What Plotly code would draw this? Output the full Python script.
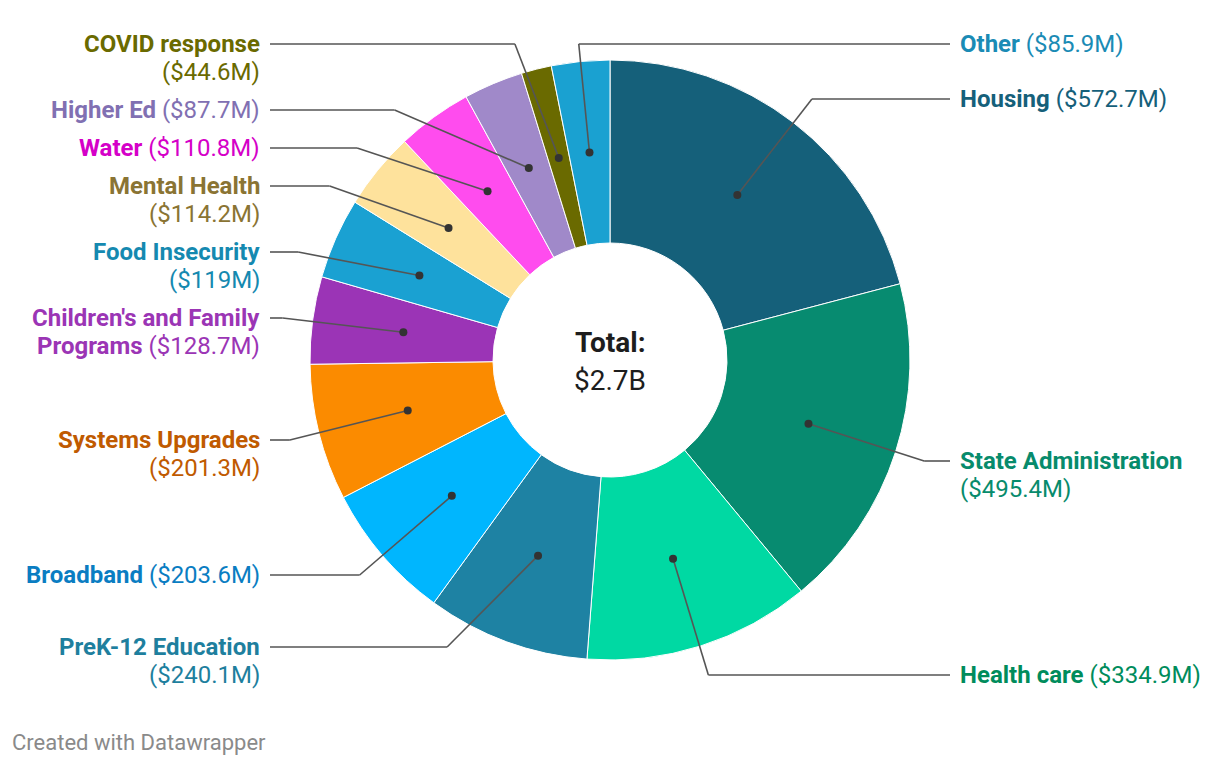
import math
import plotly.graph_objects as go

# ---------------- data ----------------
categories = ["Housing", "State Administration", "Health care", "PreK-12 Education",
              "Broadband", "Systems Upgrades", "Children's and Family Programs",
              "Food Insecurity", "Mental Health", "Water", "Higher Ed",
              "COVID response", "Other"]
values = [572.7, 495.4, 334.9, 240.1, 203.6, 201.3, 128.7, 119.0, 114.2, 110.8, 87.7, 44.6, 85.9]

slice_colors = ["#15607a", "#078b70", "#00d9a3", "#1e82a3", "#00b6fe", "#fb8b00",
                "#9b34b6", "#1aa1d2", "#fee29c", "#ff4cee", "#a089c9", "#6a6a00", "#1aa1d1"]
label_colors = ["#15607a", "#078b6c", "#008c5c", "#1e7f9e", "#0a7dc2", "#c05a00",
                "#9b35b5", "#1589b0", "#8a7433", "#d500c8", "#8170b2", "#6a6a00", "#1a8bb5"]

# ---------------- layout constants ----------------
W, H = 1220, 766
CX, CY = 610, 360
R_OUT = 300
HOLE = 0.39
R_DOT = R_OUT * (1 + HOLE) / 2
R_ELBOW = 330
LINE_END_L, LINE_END_R = 270, 950
TEXT_L, TEXT_R = 262, 958
FONT = "Roboto"
FS = 24
LINE_H = 28
WRAP = 21

label_side = ["right", "right", "right", "left", "left", "left", "left",
              "left", "left", "left", "left", "left", "right"]
label_y = [99, 461, 675, 647, 575, 440, 318, 252, 186, 148, 110, 44, 44]


def px(x):
    return x / W


def py(y):
    return 1 - y / H


def wrap_label(name, val):
    tokens = [(w, True) for w in name.split(" ")] + [("(" + val + ")", False)]
    lines, cur, cur_len = [], [], 0
    for t in tokens:
        add = len(t[0]) + (1 if cur else 0)
        if cur and cur_len + add > WRAP:
            lines.append(cur)
            cur, cur_len = [t], len(t[0])
        else:
            cur.append(t)
            cur_len += add
    if cur:
        lines.append(cur)
    out = []
    for ln in lines:
        bold = " ".join(w for w, b in ln if b)
        reg = " ".join(w for w, b in ln if not b)
        s = ""
        if bold:
            s += "<b>" + bold + "</b>"
        if reg:
            s += (" " if bold else "") + reg
        out.append(s)
    return out


total = sum(values)

fig = go.Figure()
fig.add_trace(go.Pie(
    labels=categories, values=values, sort=False, direction="clockwise", rotation=0,
    hole=HOLE, textinfo="none", hoverinfo="skip", showlegend=False,
    marker=dict(colors=slice_colors, line=dict(color="white", width=1)),
    domain=dict(x=[px(CX - R_OUT), px(CX + R_OUT)], y=[py(CY + R_OUT), py(CY - R_OUT)]),
))

shapes, annotations = [], []
cum = 0.0
for i, (cat, v) in enumerate(zip(categories, values)):
    theta = 2 * math.pi * (cum + v / 2) / total
    cum += v
    s, c = math.sin(theta), math.cos(theta)
    dx, dy = CX + R_DOT * s, CY - R_DOT * c
    ly = label_y[i]
    side = label_side[i]
    sgn = 1 if side == "right" else -1
    ddy = ly - CY
    if (s >= 0) == (side == "right") and abs(ddy) < R_ELBOW:
        ex = CX + sgn * math.sqrt(R_ELBOW ** 2 - ddy ** 2)
    else:
        ex = CX + (dx - CX) * ddy / (dy - CY)
    end_x = LINE_END_R if side == "right" else LINE_END_L
    lc = dict(color="#555555", width=1.6)
    shapes.append(dict(type="line", xref="paper", yref="paper", layer="above",
                       x0=px(dx), y0=py(dy), x1=px(ex), y1=py(ly), line=lc))
    shapes.append(dict(type="line", xref="paper", yref="paper", layer="above",
                       x0=px(ex), y0=py(ly), x1=px(end_x), y1=py(ly), line=lc))
    rr = 4.0
    shapes.append(dict(type="circle", xref="paper", yref="paper", layer="above",
                       x0=px(dx - rr), x1=px(dx + rr), y0=py(dy + rr), y1=py(dy - rr),
                       fillcolor="#333333", line=dict(color="#333333", width=0)))
    for k, line in enumerate(wrap_label(cat, f"${v:g}M")):
        annotations.append(dict(
            xref="paper", yref="paper", x=px(TEXT_R if side == "right" else TEXT_L),
            y=py(ly + k * LINE_H), xanchor="left" if side == "right" else "right",
            yanchor="middle", showarrow=False, text=line,
            font=dict(family=FONT, size=FS, color=label_colors[i])))

annotations.append(dict(xref="paper", yref="paper", x=px(CX), y=py(CY - 18),
                        xanchor="center", yanchor="middle", showarrow=False,
                        text="<b>Total:</b>",
                        font=dict(family=FONT, size=28, color="#1d1d1d")))
annotations.append(dict(xref="paper", yref="paper", x=px(CX), y=py(CY + 20),
                        xanchor="center", yanchor="middle", showarrow=False,
                        text=f"${total/1000:.1f}B",
                        font=dict(family=FONT, size=28, color="#1d1d1d")))
annotations.append(dict(xref="paper", yref="paper", x=px(10), y=py(742),
                        xanchor="left", yanchor="middle", showarrow=False,
                        text="Created with Datawrapper",
                        font=dict(family=FONT, size=22, color="#8a8a8a")))

fig.update_layout(
    width=W, height=H, margin=dict(l=0, r=0, t=0, b=0),
    paper_bgcolor="white", plot_bgcolor="white",
    shapes=shapes, annotations=annotations,
    font=dict(family=FONT),
)
fig.write_html("out.html", config={"displayModeBar": False},
               post_script="document.body.style.margin='0';document.body.style.overflow='hidden';")
